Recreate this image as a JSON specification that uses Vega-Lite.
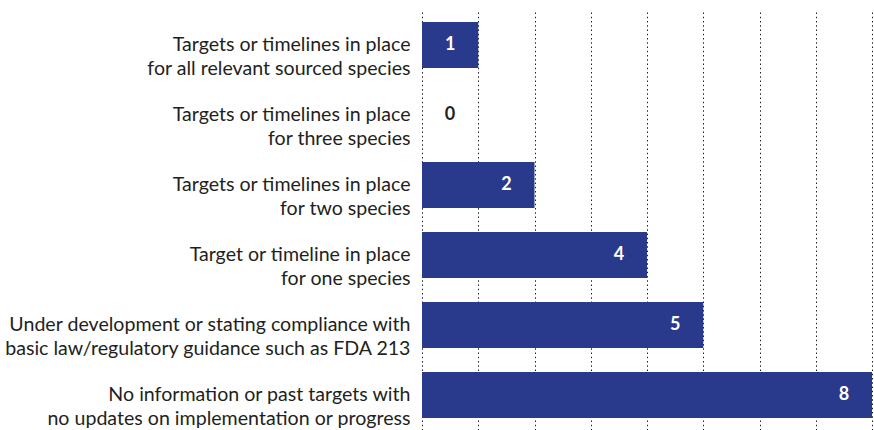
{
  "$schema": "https://vega.github.io/schema/vega-lite/v6.json",
  "width": 450,
  "height": 420,
  "autosize": "none",
  "padding": {"left": 422, "top": 10, "right": 2, "bottom": 0},
  "background": "white",
  "config": {
    "view": {"stroke": null},
    "font": "Lato"
  },
  "data": {
    "values": [
      {"category": "Targets or timelines in place|for all relevant sourced species", "value": 1},
      {"category": "Targets or timelines in place|for three species", "value": 0},
      {"category": "Targets or timelines in place|for two species", "value": 2},
      {"category": "Target or timeline in place|for one species", "value": 4},
      {"category": "Under development or stating compliance with|basic law/regulatory guidance such as FDA 213", "value": 5},
      {"category": "No information or past targets with|no updates on implementation or progress", "value": 8}
    ]
  },
  "encoding": {
    "y": {
      "field": "category",
      "type": "nominal",
      "sort": null,
      "scale": {"paddingInner": 0.34, "paddingOuter": 0.17},
      "axis": {
        "title": null,
        "domain": false,
        "ticks": false,
        "labelPadding": 12,
        "labelFont": "Lato",
        "labelFontSize": 19.6,
        "labelColor": "#231f20",
        "labelLineHeight": 24,
        "labelLimit": 0,
        "labelExpr": "split(datum.label, '|')"
      }
    }
  },
  "layer": [
    {
      "mark": {"type": "bar", "color": "#29398b"},
      "encoding": {
        "x": {
          "field": "value",
          "type": "quantitative",
          "scale": {"domain": [0, 8], "nice": false},
          "axis": {
            "title": null,
            "values": [0, 1, 2, 3, 4, 5, 6, 7, 8],
            "labels": false,
            "ticks": false,
            "domain": false,
            "grid": true,
            "gridColor": "#222222",
            "gridDash": [1.5, 2.75],
            "gridWidth": 1,
            "gridOpacity": 1
          }
        }
      }
    },
    {
      "transform": [{"filter": "datum.value > 0"}],
      "mark": {"type": "text", "color": "white", "fontWeight": "bold", "fontSize": 18, "align": "center", "baseline": "middle", "dx": -28},
      "encoding": {
        "x": {"field": "value", "type": "quantitative"},
        "text": {"field": "value", "type": "quantitative"}
      }
    },
    {
      "transform": [{"filter": "datum.value == 0"}],
      "mark": {"type": "text", "color": "#231f20", "fontWeight": "bold", "fontSize": 18, "align": "center", "baseline": "middle", "dx": 28},
      "encoding": {
        "x": {"field": "value", "type": "quantitative"},
        "text": {"field": "value", "type": "quantitative"}
      }
    }
  ]
}
